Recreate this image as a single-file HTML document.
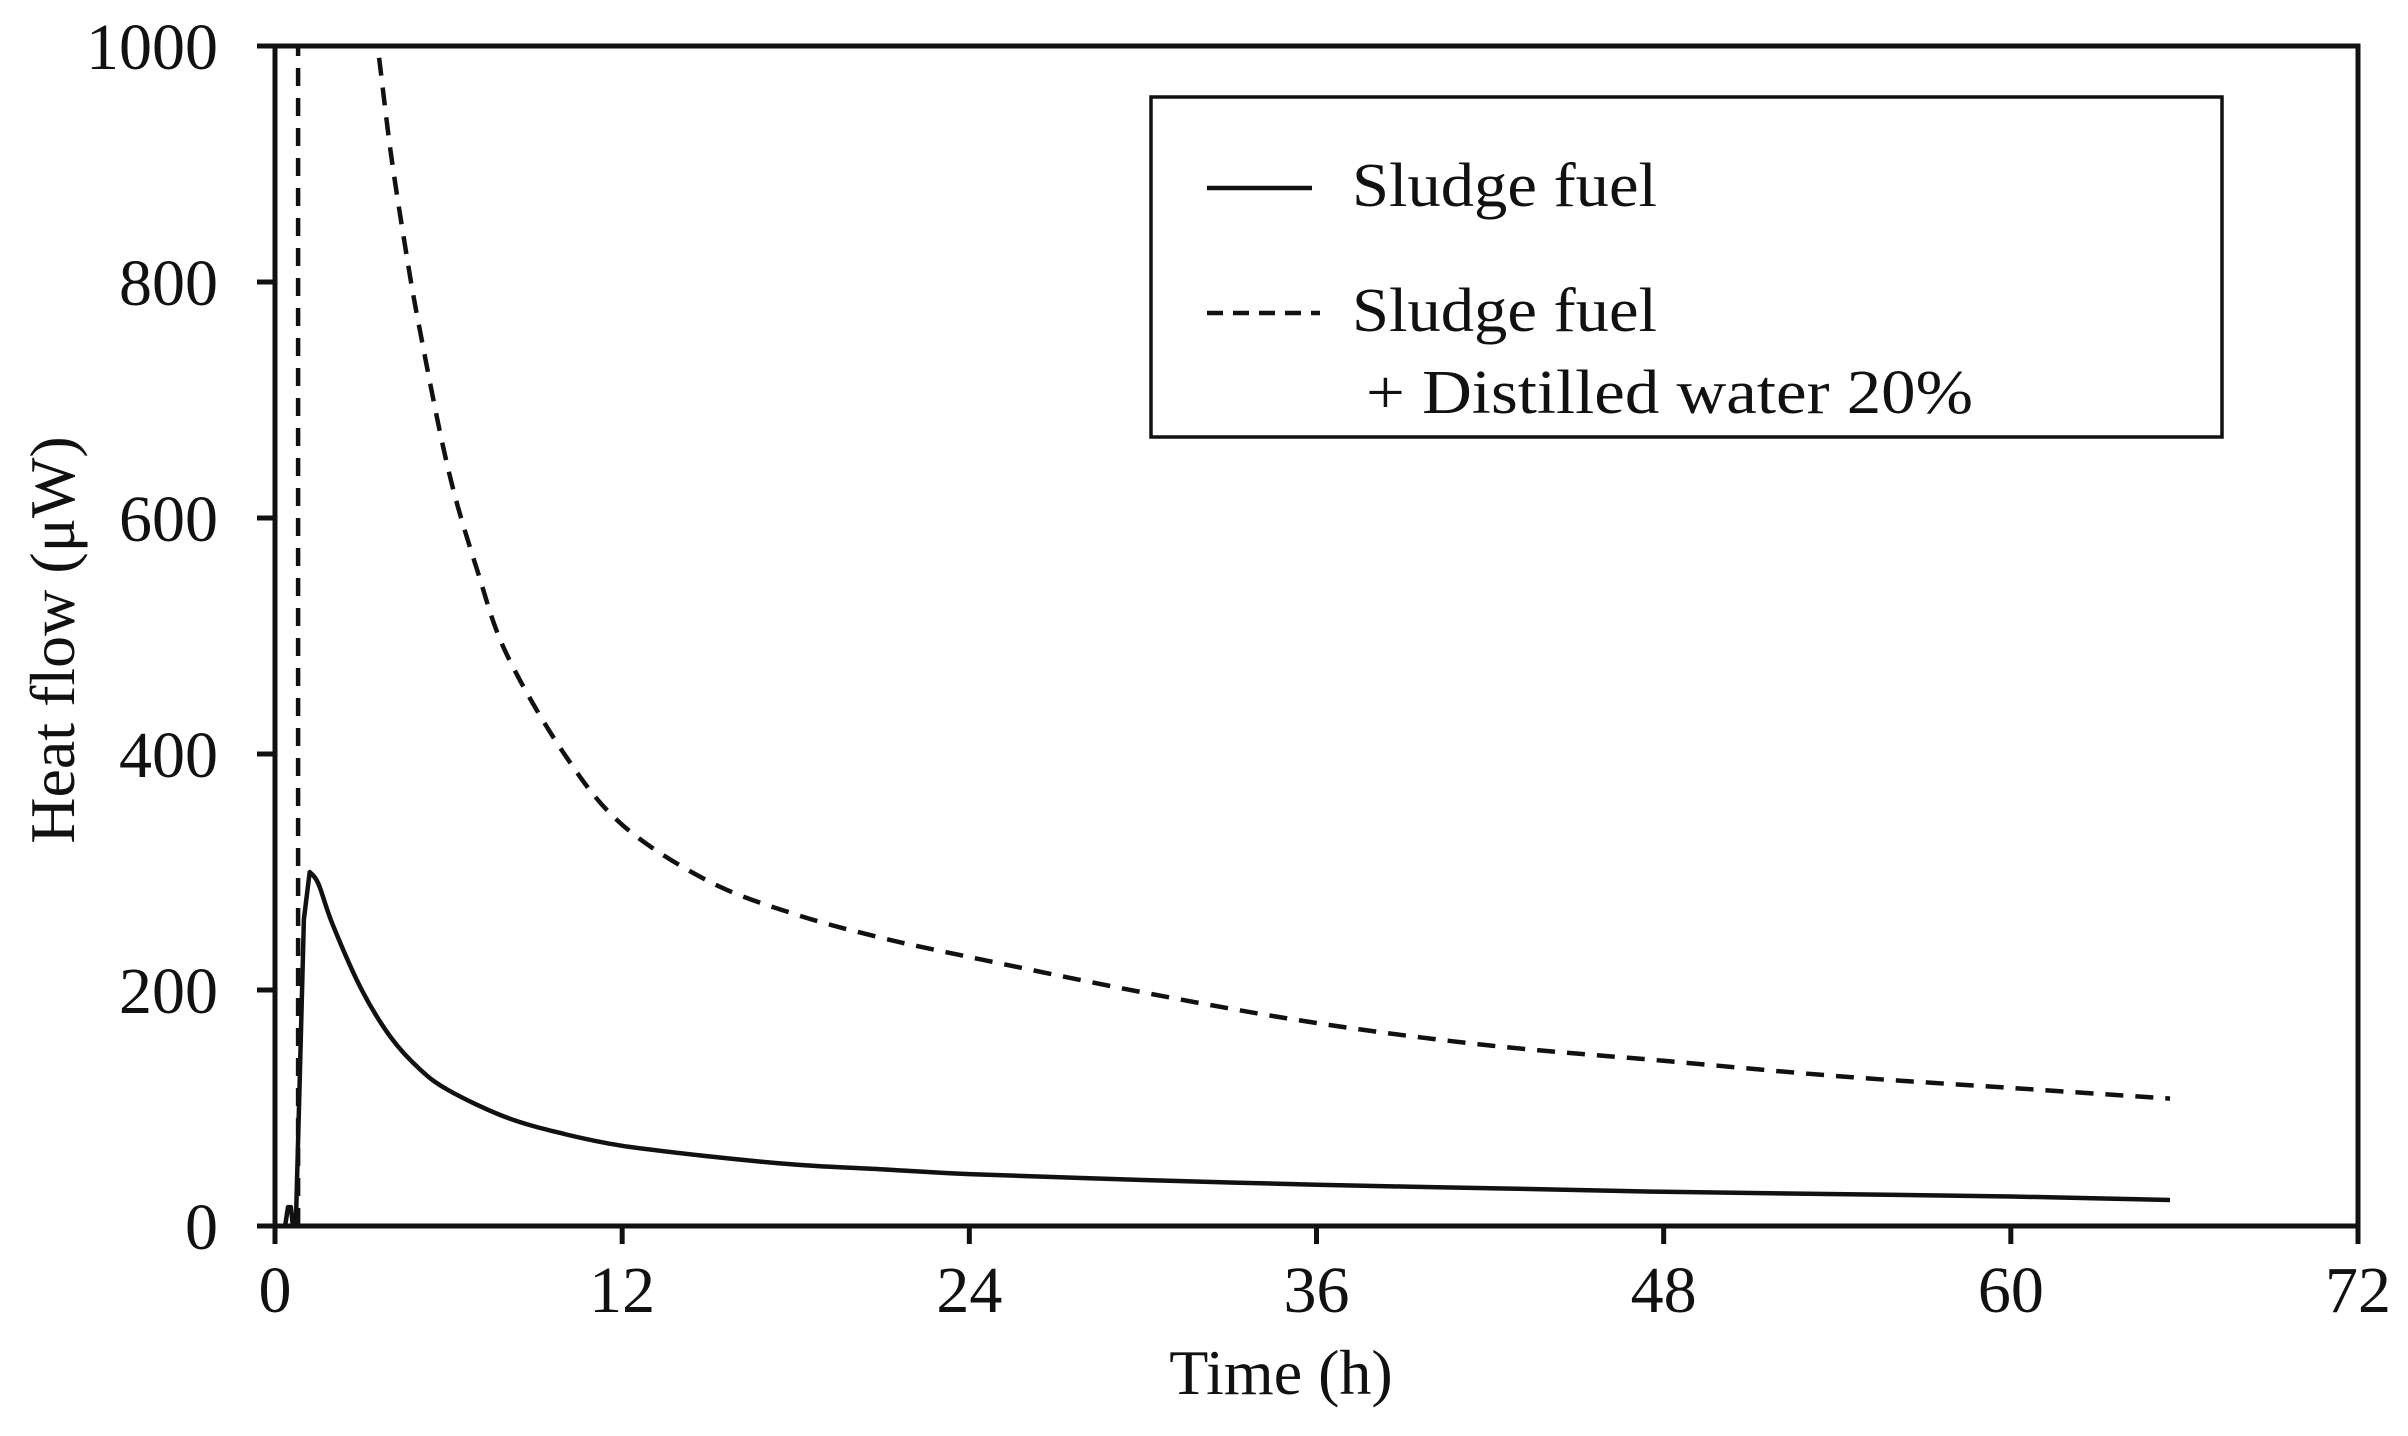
<!DOCTYPE html>
<html><head><meta charset="utf-8"><style>
html,body{margin:0;padding:0;background:#fff}
svg{display:block}
text{font-family:"Liberation Serif",serif;fill:#111}
</style></head><body>
<svg id="chart" width="2408" height="1436" viewBox="0 0 2408 1436" xmlns="http://www.w3.org/2000/svg">
<g id="axes"></g>
<g id="series"></g>
<g>
<rect x="1151" y="97" width="1071" height="340" fill="#fff" stroke="#111" stroke-width="3.5"/>
<line x1="1207" y1="188" x2="1312" y2="188" stroke="#111" stroke-width="4.5"/>
<text x="1352" y="206" font-size="62" textLength="305" lengthAdjust="spacingAndGlyphs">Sludge fuel</text>
<line x1="1207" y1="313" x2="1320" y2="313" stroke="#111" stroke-width="4.5" stroke-dasharray="16,10"/>
<text x="1352" y="331" font-size="62" textLength="305" lengthAdjust="spacingAndGlyphs">Sludge fuel</text>
<text x="1366" y="413" font-size="62" textLength="607" lengthAdjust="spacingAndGlyphs">+ Distilled water 20%</text>
</g>
<text x="1281" y="1394" font-size="64" text-anchor="middle">Time (h)</text>
<text transform="translate(74,640) rotate(-90)" font-size="64" text-anchor="middle">Heat flow (μW)</text>
</svg>
<script>
const xTicks=[0,12,24,36,48,60,72];
const yTicks=[0,200,400,600,800,1000];
const solidT=[0,0.35,0.45,0.55,0.62,0.72,0.85,1.0,1.2,1.5,2,3,4,5,6,8,10,12,15,18,21,24,30,36,42,48,54,60,65.5];
const solidV=[0,0,16,16,0,0,120,260,300,290,255,200,160,133,115,92,78,68,59,52,48,44,39,35,32,29,27,25,22];
const dashSpikeT=[0.8,0.8];
const dashSpikeV=[0,1000];
const dashT=[3.6,4,4.5,5,6,7,8,10,12,15,18,21,24,30,36,42,48,54,60,65.5];
const dashV=[990,910,830,760,640,555,485,400,340,292,264,244,228,198,172,153,140,127,117,108];
const X0=275,X1=2358,Y0=1226,Y1=46;
const sx=t=>X0+(t-0)/(72-0)*(X1-X0);
const sy=v=>Y0-(v-0)/(1000-0)*(Y0-Y1);
const NS="http://www.w3.org/2000/svg";
const ax=document.getElementById('axes'),se=document.getElementById('series');
function mk(tag,attrs,parent){const e=document.createElementNS(NS,tag);for(const k in attrs)e.setAttribute(k,attrs[k]);parent.appendChild(e);return e;}
const frame=mk('rect',{x:X0,y:Y1,width:X1-X0,height:Y0-Y1,fill:'none',stroke:'#111','stroke-width':5},ax);


xTicks.forEach(t=>{
 const l=mk('line',{x1:sx(t),y1:Y0,x2:sx(t),y2:Y0+18,stroke:'#111','stroke-width':5},ax);
 
 
 const tx=mk('text',{x:sx(t),y:Y0+86,'font-size':66,'text-anchor':'middle'},ax);
 tx.textContent=t;
 
 
});
yTicks.forEach(v=>{
 const l=mk('line',{x1:X0-18,y1:sy(v),x2:X0,y2:sy(v),stroke:'#111','stroke-width':5},ax);
 
 
 const tx=mk('text',{x:218,y:sy(v)+23,'font-size':66,'text-anchor':'end'},ax);
 tx.textContent=v;
 
 
});
function path(ts,vs){
 const p=ts.map((t,i)=>[sx(t),sy(vs[i])]);
 let d='M'+p[0][0].toFixed(1)+','+p[0][1].toFixed(1);
 for(let i=0;i<p.length-1;i++){
  const a=p[Math.max(0,i-1)],b=p[i],c=p[i+1],e=p[Math.min(p.length-1,i+2)];
  const c1x=b[0]+(c[0]-a[0])/6,c1y=b[1]+(c[1]-a[1])/6,c2x=c[0]-(e[0]-b[0])/6,c2y=c[1]-(e[1]-b[1])/6;
  d+='C'+c1x.toFixed(1)+','+c1y.toFixed(1)+' '+c2x.toFixed(1)+','+c2y.toFixed(1)+' '+c[0].toFixed(1)+','+c[1].toFixed(1);
 }
 return d;
}
function lin(ts,vs){return ts.map((t,i)=>(i?'L':'M')+sx(t).toFixed(1)+','+sy(vs[i]).toFixed(1)).join('');}
const p1=mk('path',{d:lin(solidT.slice(0,9),solidV.slice(0,9))+path(solidT.slice(8),solidV.slice(8)).replace(/^M[^C]*/,''),fill:'none',stroke:'#111','stroke-width':4.5,'stroke-linejoin':'round'},se);


const p3=mk('path',{d:lin(dashSpikeT,dashSpikeV),fill:'none',stroke:'#111','stroke-width':4.5,'stroke-dasharray':'18,12'},se);


const p2=mk('path',{d:path(dashT,dashV),fill:'none',stroke:'#111','stroke-width':4.5,'stroke-dasharray':'18,12'},se);


</script>
</body></html>
